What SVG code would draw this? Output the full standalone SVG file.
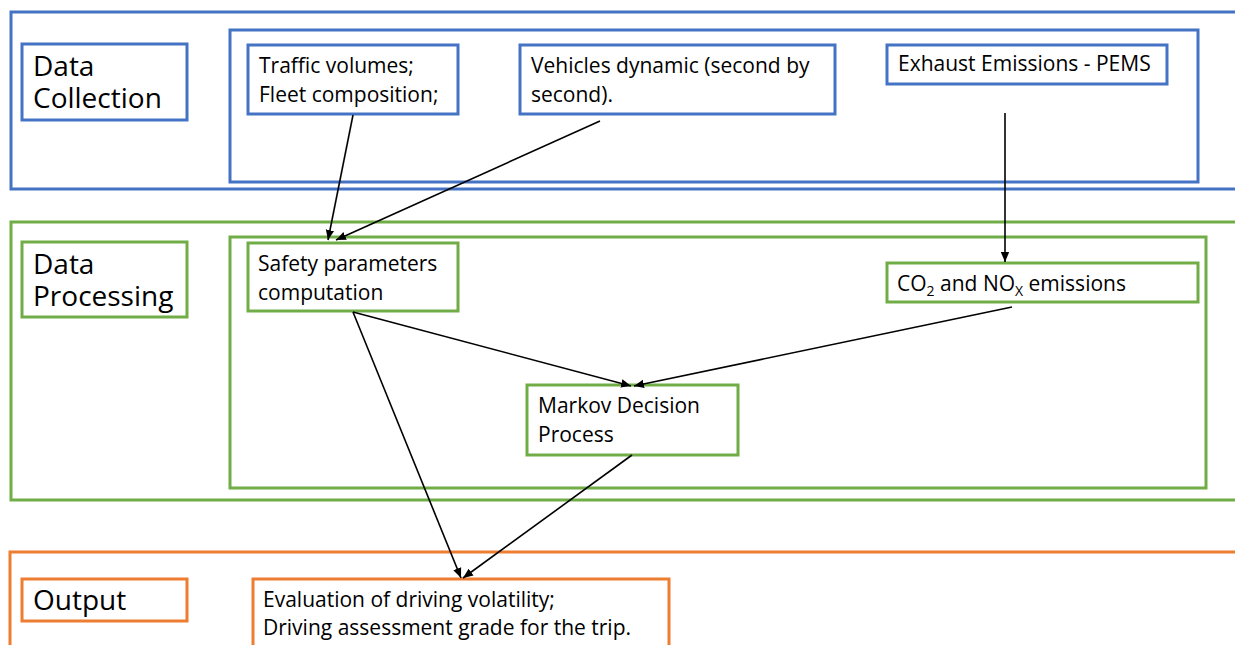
<svg xmlns="http://www.w3.org/2000/svg" width="1235" height="645" viewBox="0 0 1235 645">
<style>
  text { font-family: "Open Sans", "Liberation Sans", sans-serif; fill: #000; }
  .lbl { font-size: 28px; }
  .txt { font-size: 21px; }
  .blue { fill: #fff; stroke: #4472C4; stroke-width: 3; }
  .green { fill: #fff; stroke: #70AD47; stroke-width: 3; }
  .orange { fill: #fff; stroke: #ED7D31; stroke-width: 3; }
  .conn line { stroke: #000; stroke-width: 1.6; marker-end: url(#arr); }
</style>
<defs>
  <marker id="arr" markerUnits="userSpaceOnUse" markerWidth="10" markerHeight="10" viewBox="0 0 10 10" refX="10" refY="5" orient="auto">
    <path d="M0,0.8 L10,5 L0,9.2 z" fill="#000"/>
  </marker>
</defs>
<rect width="1235" height="645" fill="#fff"/>

<g id="section-collection">
  <rect class="blue" x="11" y="12" width="1240" height="177"/>
  <rect class="blue" x="230" y="30" width="968" height="152"/>
</g>
<g id="section-processing">
  <rect class="green" x="11" y="222" width="1240" height="278"/>
  <rect class="green" x="230" y="237" width="976" height="251"/>
</g>
<g id="section-output">
  <rect class="orange" x="10" y="552" width="1240" height="110"/>
</g>

<g id="label-data-collection">
  <rect class="blue" x="22" y="44" width="165" height="76"/>
  <text class="lbl" x="33" y="76">Data</text>
  <text class="lbl" x="33" y="108">Collection</text>
</g>
<g id="node-traffic">
  <rect class="blue" x="248" y="45" width="210" height="69"/>
  <text class="txt" x="259" y="73">Traffic volumes;</text>
  <text class="txt" x="259" y="102">Fleet composition;</text>
</g>
<g id="node-vehicles">
  <rect class="blue" x="520" y="45" width="315" height="69"/>
  <text class="txt" x="531" y="73">Vehicles dynamic (second by</text>
  <text class="txt" x="531" y="102">second).</text>
</g>
<g id="node-exhaust">
  <rect class="blue" x="887" y="45" width="280" height="39"/>
  <text class="txt" x="898" y="71">Exhaust Emissions - PEMS</text>
</g>

<g id="label-data-processing">
  <rect class="green" x="22" y="242" width="165" height="75"/>
  <text class="lbl" x="33" y="274">Data</text>
  <text class="lbl" x="33" y="306">Processing</text>
</g>
<g id="node-safety">
  <rect class="green" x="248" y="243" width="210" height="68"/>
  <text class="txt" x="258" y="271">Safety parameters</text>
  <text class="txt" x="258" y="300">computation</text>
</g>
<g id="node-emissions">
  <rect class="green" x="887" y="263" width="311" height="39"/>
  <text class="txt" x="897" y="291">CO<tspan font-size="14" dy="5">2</tspan><tspan dy="-5"> and NO</tspan><tspan font-size="14" dy="5">X</tspan><tspan dy="-5"> emissions</tspan></text>
</g>
<g id="node-markov">
  <rect class="green" x="527" y="385" width="211" height="70"/>
  <text class="txt" x="538" y="413">Markov Decision</text>
  <text class="txt" x="538" y="442">Process</text>
</g>

<g id="label-output">
  <rect class="orange" x="22" y="579" width="165" height="42"/>
  <text class="lbl" x="33" y="610">Output</text>
</g>
<g id="node-evaluation">
  <rect class="orange" x="253" y="579" width="416" height="80"/>
  <text class="txt" x="263" y="607">Evaluation of driving volatility;</text>
  <text class="txt" x="263" y="635">Driving assessment grade for the trip.</text>
</g>

<g id="connectors" class="conn">
  <line x1="353" y1="115" x2="328" y2="240"/>
  <line x1="600" y1="121" x2="336" y2="240"/>
  <line x1="1005" y1="113" x2="1005" y2="262"/>
  <line x1="353" y1="312" x2="631" y2="386"/>
  <line x1="1012" y1="307" x2="634" y2="386"/>
  <line x1="353" y1="312" x2="461" y2="578"/>
  <line x1="632" y1="455" x2="463" y2="578"/>
</g>
</svg>
